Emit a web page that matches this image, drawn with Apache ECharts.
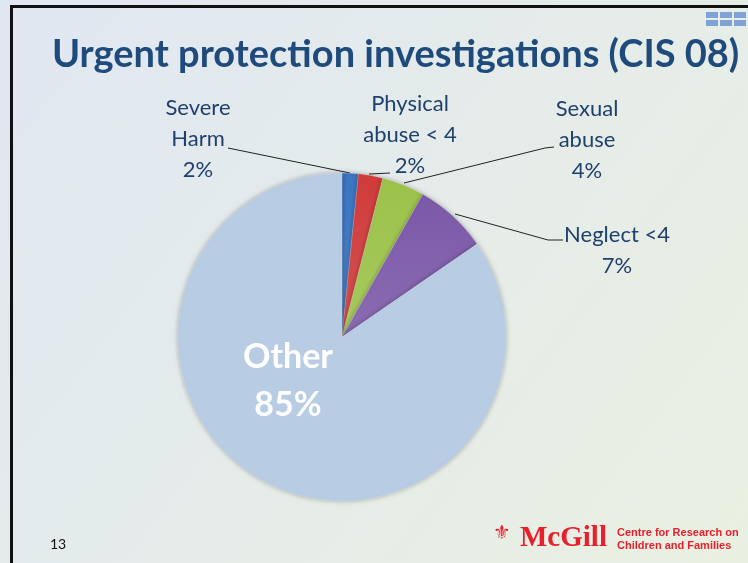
<!DOCTYPE html>
<html>
<head>
<meta charset="utf-8">
<script src="https://cdn.jsdelivr.net/npm/echarts@6/dist/echarts.min.js"></script>
<style>
  html, body { margin: 0; padding: 0; }
  #chart { width: 748px; height: 563px; }
</style>
</head>
<body>
<div id="chart"></div>
<script>
  // slice data, clockwise from 12 o'clock
  var categories = ['Severe\nHarm', 'Physical\nabuse < 4', 'Sexual\nabuse', 'Neglect <4', 'Other'];
  var values = [1.6, 2.4, 4.2, 7.2, 84.6];
  var colors = ['#3A74C2', '#D03B3B', '#9CC24A', '#7C58A8', '#B8CCE4'];

  // where each label sits, and its leader line
  var labelPos = [
    { x: 198, y: 139, line: [[228, 148], [350, 173]] },
    { x: 410, y: 135, line: [[390, 173], [369, 174]] },
    { x: 587, y: 140, line: [[554, 147], [545, 148], [404, 183]] },
    { x: 617, y: 250, line: [[563, 240], [548, 240], [455, 214]] },
    { x: 288, y: 381 }
  ];

  var chart = echarts.init(document.getElementById('chart'));

  var pieData = categories.map(function (name, i) {
    var item = {
      name: name,
      value: values[i],
      itemStyle: {
        color: new echarts.graphic.LinearGradient(0, 0, 0, 1, [
          { offset: 0, color: colors[i] },
          { offset: 1, color: echarts.color.lift(colors[i], 0.12) }
        ])
      }
    };
    if (name === 'Other') {
      item.itemStyle.color = colors[i];
      item.label = {
        position: 'inside',
        color: '#ffffff',
        fontSize: 34,
        fontWeight: 'bold',
        lineHeight: 48
      };
      item.labelLine = { show: false };
    }
    return item;
  });

  var option = {
    animation: false,
    graphic: [
      {
        type: 'rect', z: -10, silent: true,
        shape: { x: 0, y: 0, width: 748, height: 563 },
        style: {
          fill: new echarts.graphic.LinearGradient(0, 0, 1, 1, [
            { offset: 0, color: '#E0E7F2' },
            { offset: 1, color: '#EAF0E1' }
          ])
        }
      },
      // slide frame
      { type: 'rect', shape: { x: 10, y: 5, width: 738, height: 3 }, style: { fill: '#111' } },
      { type: 'rect', shape: { x: 10, y: 5, width: 3, height: 558 }, style: { fill: '#111' } },
      // little icon top right
      { type: 'rect', shape: { x: 706, y: 12, width: 12, height: 6 }, style: { fill: '#7FA3D6' } },
      { type: 'rect', shape: { x: 720, y: 12, width: 12, height: 6 }, style: { fill: '#7FA3D6' } },
      { type: 'rect', shape: { x: 734, y: 12, width: 12, height: 6 }, style: { fill: '#7FA3D6' } },
      { type: 'rect', shape: { x: 706, y: 20, width: 12, height: 6 }, style: { fill: '#7FA3D6' } },
      { type: 'rect', shape: { x: 720, y: 20, width: 12, height: 6 }, style: { fill: '#7FA3D6' } },
      { type: 'rect', shape: { x: 734, y: 20, width: 12, height: 6 }, style: { fill: '#7FA3D6' } },
      // page number
      {
        type: 'text', left: 50, top: 537,
        style: { text: '13', fill: '#111', font: '14px Lato, sans-serif' }
      },
      // logo
      {
        type: 'text', left: 493, top: 524,
        style: { text: '\u269C', fill: '#E8202C', font: 'bold 20px "DejaVu Sans"' }
      },
      {
        type: 'text', left: 520, top: 524,
        style: { text: 'McGill', fill: '#E8202C', font: 'bold 29px "Liberation Serif", serif' }
      },
      {
        type: 'text', left: 617, top: 526,
        style: {
          text: 'Centre for Research on\nChildren and Families',
          fill: '#E8202C', font: 'bold 11px "Liberation Sans", Arial, sans-serif', lineHeight: 13
        }
      }
    ],
    title: {
      text: 'Urgent protection investigations (CIS 08)',
      left: 47, top: 31,
      textStyle: {
        color: '#1F4A7C',
        fontSize: 38,
        fontWeight: 'bold',
        fontFamily: 'Lato, sans-serif'
      }
    },
    series: [{
      type: 'pie',
      center: [342, 337],
      radius: 164,
      startAngle: 90,
      clockwise: true,
      silent: true,
      itemStyle: {
        borderColor: 'rgba(255,255,255,0.35)',
        borderWidth: 0.5,
        shadowBlur: 5,
        shadowColor: 'rgba(0,0,0,0.3)'
      },
      label: {
        show: true,
        formatter: function (p) { return p.name + '\n' + Math.round(p.value) + '%'; },
        color: '#1F3F6C',
        fontSize: 22,
        lineHeight: 31,
        fontFamily: 'Lato, sans-serif',
        align: 'center'
      },
      labelLine: {
        show: true,
        lineStyle: { color: '#222', width: 1 }
      },
      labelLayout: function (params) {
        var p = labelPos[params.dataIndex];
        var out = { x: p.x, y: p.y, align: 'center', verticalAlign: 'middle' };
        if (p.line) out.labelLinePoints = p.line;
        return out;
      },
      data: pieData
    }]
  };

  chart.setOption(option);
</script>
</body>
</html>
